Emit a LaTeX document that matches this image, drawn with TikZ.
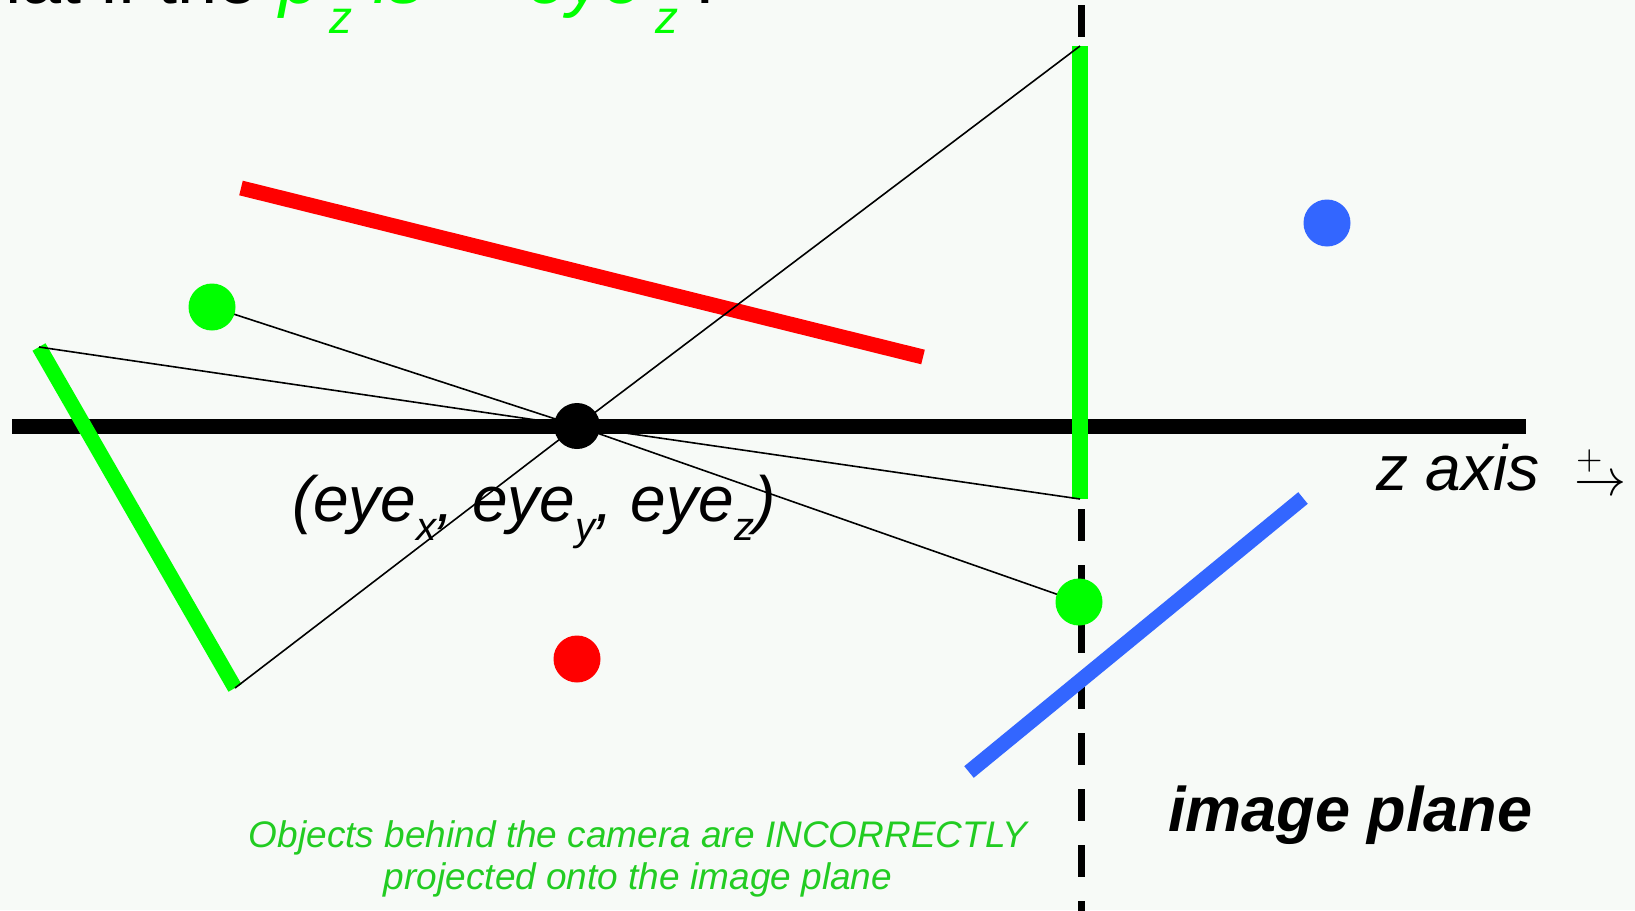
\documentclass[tikz,border=0pt]{standalone}
\usepackage{graphicx}
\usepackage{fontspec}
\setmainfont{Liberation Sans}
\definecolor{bgc}{HTML}{F7FAF7}
\definecolor{gshape}{HTML}{00FF00}
\definecolor{gtext}{HTML}{22CC22}
\definecolor{rd}{HTML}{FF0000}
\definecolor{bl}{HTML}{3366FF}
\newcommand\szf[1]{\fontsize{#1}{#1}\selectfont}
\newcommand\sbx[1]{\raisebox{-0.3em}{\fontsize{40}{40}\selectfont #1}}
\pgfdeclarelayer{back}
\pgfsetlayers{back,main}
\begin{document}
\begin{tikzpicture}[x=1pt,y=-1pt,
  txt/.style={inner sep=0pt,outer sep=0pt},
  dot/.style={circle,inner sep=0pt,minimum size=47pt},
  thick line/.style={line width=15pt},
  thin line/.style={line width=1.6pt,black},
  imgplane/.style={line width=7pt,black,dash pattern=on 32pt off 24pt}]
\useasboundingbox (0,0) rectangle (1635,910);
\clip (0,0) rectangle (1635,910);
% coordinates
\coordinate (axL) at (12,426);
\coordinate (axR) at (1526,426);
\coordinate (ipT) at (1081,5);
\coordinate (ipB) at (1081,912);
\coordinate (gvT) at (1080,46);
\coordinate (gvB) at (1080,499);
\coordinate (gsT) at (39,347);
\coordinate (gsB) at (235,688);
\coordinate (rT) at (241,188);
\coordinate (rB) at (923,357);
\coordinate (bT) at (1303,498);
\coordinate (bB) at (969,772);
% dots
\node[dot,fill=black,minimum size=46pt] (eye) at (577,426) {};
\node[dot,fill=gshape] (g1) at (212,307) {};
\node[dot,fill=gshape] (g2) at (1079,602) {};
\node[dot,fill=rd] (r1) at (577,659) {};
\node[dot,fill=bl] (b1) at (1327,223) {};
\begin{pgfonlayer}{back}
\fill[bgc] (0,0) rectangle (1635,910);
\draw[imgplane] (ipT) -- (ipB);
\draw[thick line,black] (axL) -- (axR);
\draw[thick line,rd] (rT) -- (rB);
\draw[thick line,bl] (bB) -- (bT);
\draw[thick line,gshape,line width=16pt] (gvT) -- (gvB);
\draw[thick line,gshape] (gsT) -- (gsB);
\draw[thin line] (gvT) -- (eye.center) -- (gsB);
\draw[thin line] (gsT) -- (eye.center) -- (gvB);
\draw[thin line] (g1.center) -- (eye.center) -- (g2.center);
\end{pgfonlayer}
% top title (cut off)
\node[txt,anchor=base east,font=\szf{72}] (t1) at (258,4) {What if the};
\node[txt,anchor=base west,text=gshape,font=\szf{72}\itshape] (t2) at (279,4) {p};
\node[txt,anchor=base west,text=gshape,font=\szf{46}\itshape] (t3) at (329,33) {z};
\node[txt,anchor=base west,text=gshape,font=\szf{72}\itshape] (t4) at (373,4) {is <};
\node[txt,anchor=base west,text=gshape,font=\szf{72}\itshape] (t5) at (527,4) {eye};
\node[txt,anchor=base west,text=gshape,font=\szf{46}\itshape] (t6) at (655,33) {z};
\node[txt,anchor=base west,font=\szf{72}] (t7) at (686,4) {?};
% labels
\node[txt,anchor=base west,font=\szf{64}\itshape] (eyelbl) at (292,521)
  {(eye\sbx{x}, eye\sbx{y}, eye\sbx{z})};
\node[txt,anchor=base west,font=\szf{64}\itshape] (zax) at (1376,490) {z axis};
\node[txt,anchor=base west,font=\normalsize] (plus) at (1576,469) {\scalebox{3.4}{$+$}};
\node[txt,anchor=base west,font=\normalsize] (arr) at (1574,495) {\scalebox{5.2}{$\rightarrow$}};
\node[txt,anchor=base west,font=\szf{63}\bfseries\itshape] (ip) at (1168,831) {image plane};
\node[txt,anchor=base,text=gtext,font=\szf{37}\itshape] (note1) at (638,847)
  {Objects behind the camera are INCORRECTLY};
\node[txt,anchor=base,text=gtext,font=\szf{37}\itshape] (note2) at (638,889)
  {projected onto the image plane};
\end{tikzpicture}
\end{document}
